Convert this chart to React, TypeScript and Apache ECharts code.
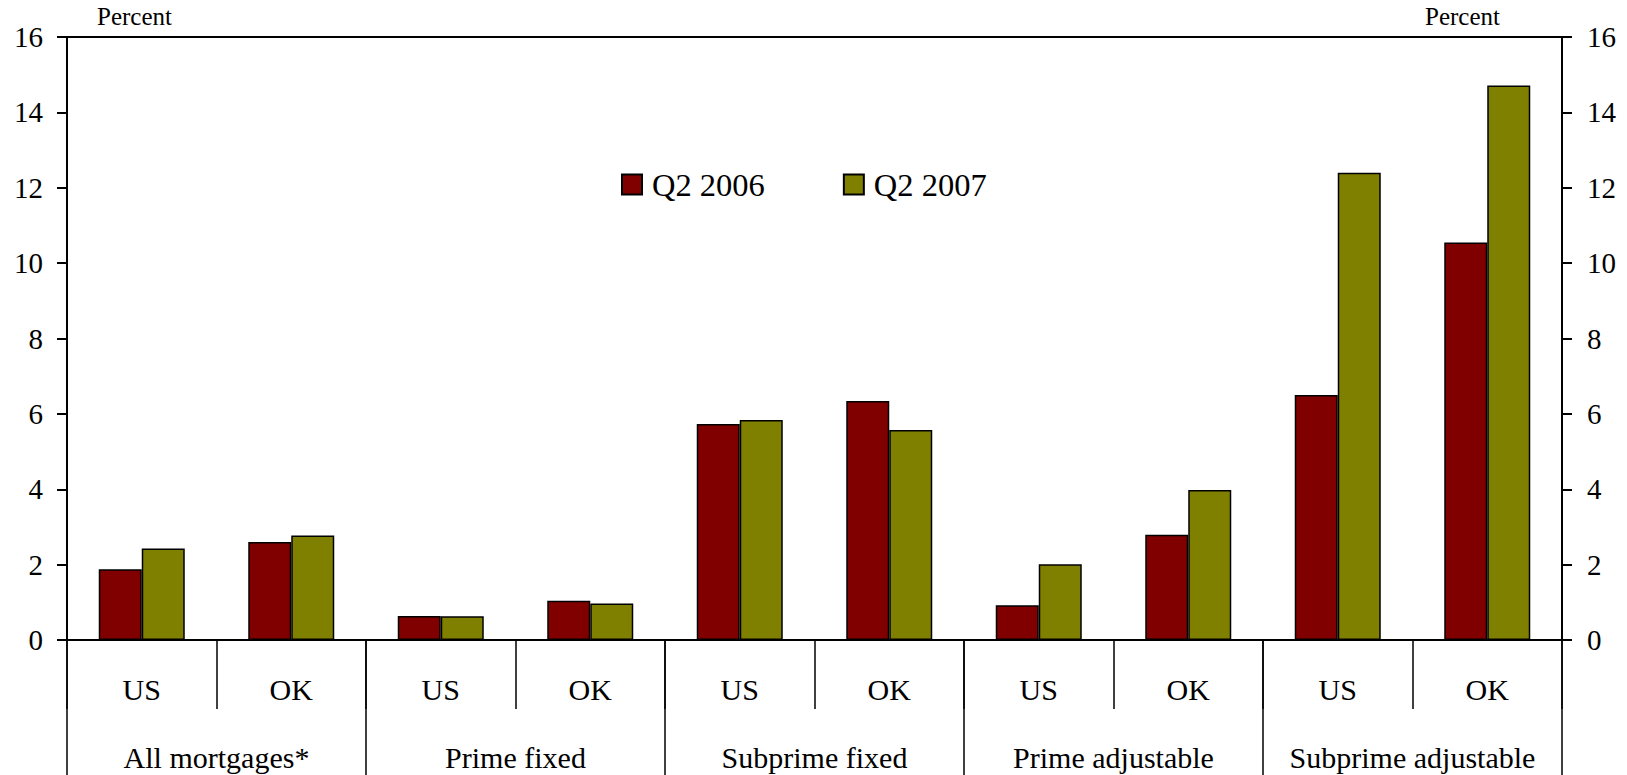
import React, { useEffect, useRef } from "react";
import * as echarts from "echarts";

const subCategories = ["US", "OK", "US", "OK", "US", "OK", "US", "OK", "US", "OK"];
const groups = ["All mortgages*", "Prime fixed", "Subprime fixed", "Prime adjustable", "Subprime adjustable"];
const seriesNames = ["Q2 2006", "Q2 2007"];
const q2006 = [1.88, 2.6, 0.64, 1.04, 5.73, 6.34, 0.92, 2.79, 6.5, 10.55];
const q2007 = [2.43, 2.77, 0.63, 0.97, 5.84, 5.57, 2.01, 3.98, 12.4, 14.71];
const unitLabel = "Percent";
const yMin = 0;
const yMax = 16;
const yInterval = 2;

const FONT = "'Liberation Serif', 'Times New Roman', Times, serif";
const RED = "#800000";
const OLIVE = "#808000";

export default function App() {
  const ref = useRef<HTMLDivElement>(null);

  useEffect(() => {
    document.body.style.margin = "0";
    if (!ref.current) return;
    const chart = echarts.init(ref.current, null, { renderer: "svg" });

    const yAxisCommon = {
      type: "value",
      min: yMin,
      max: yMax,
      interval: yInterval,
      splitLine: { show: false },
      axisLine: { show: true, lineStyle: { color: "#000", width: 2 } },
      axisTick: { show: true, inside: false, length: 10, lineStyle: { color: "#000", width: 2 } },
    };

    chart.setOption({
      animation: false,
      backgroundColor: "#fff",
      grid: {
        left: 67,
        right: 65,
        top: 37,
        bottom: 135,
        show: true,
        borderColor: "#000",
        borderWidth: 2,
        outerBoundsMode: "none",
      },
      legend: {
        data: seriesNames,
        left: 621,
        top: 168,
        padding: 0,
        icon: "rect",
        itemWidth: 20,
        itemHeight: 20,
        itemGap: 78,
        textStyle: {
          fontFamily: FONT,
          fontSize: 32.5,
          color: "#000",
          lineHeight: 33,
          padding: [0, 0, 0, 5],
        },
      },
      graphic: [
        {
          type: "text",
          left: 97,
          top: 4,
          style: { text: unitLabel, font: `25px ${FONT}`, fill: "#000" },
        },
        {
          type: "text",
          left: 1425,
          top: 4,
          style: { text: unitLabel, font: `25px ${FONT}`, fill: "#000" },
        },
      ],
      xAxis: [
        {
          type: "category",
          position: "bottom",
          data: subCategories,
          axisLine: { show: true, lineStyle: { color: "#000", width: 2 } },
          axisTick: { show: true, length: 69, lineStyle: { color: "#000", width: 1.5 } },
          axisLabel: {
            interval: 0,
            margin: 49,
            verticalAlign: "middle",
            fontFamily: FONT,
            fontSize: 30,
            color: "#000",
          },
          splitLine: { show: false },
        },
        {
          type: "category",
          position: "bottom",
          data: groups,
          axisLine: { show: false },
          axisTick: { show: true, length: 140, lineStyle: { color: "#000", width: 1.5 } },
          axisLabel: {
            interval: 0,
            margin: 117,
            verticalAlign: "middle",
            fontFamily: FONT,
            fontSize: 30,
            color: "#000",
          },
          splitLine: { show: false },
        },
      ],
      yAxis: [
        {
          ...yAxisCommon,
          position: "left",
          axisLabel: { margin: 24, fontFamily: FONT, fontSize: 29, color: "#000" },
        },
        {
          ...yAxisCommon,
          position: "right",
          axisLabel: { margin: 25, fontFamily: FONT, fontSize: 29, color: "#000" },
        },
      ],
      series: [
        {
          name: seriesNames[0],
          type: "bar",
          xAxisIndex: 0,
          yAxisIndex: 0,
          data: q2006,
          barWidth: 43,
          barGap: "0%",
          itemStyle: { color: RED, borderColor: "#000", borderWidth: 1.5 },
        },
        {
          name: seriesNames[1],
          type: "bar",
          xAxisIndex: 0,
          yAxisIndex: 0,
          data: q2007,
          barWidth: 43,
          barGap: "0%",
          itemStyle: { color: OLIVE, borderColor: "#000", borderWidth: 1.5 },
        },
      ],
    });

    return () => {
      chart.dispose();
    };
  }, []);

  return <div ref={ref} style={{ width: 1627, height: 775 }} />;
}
